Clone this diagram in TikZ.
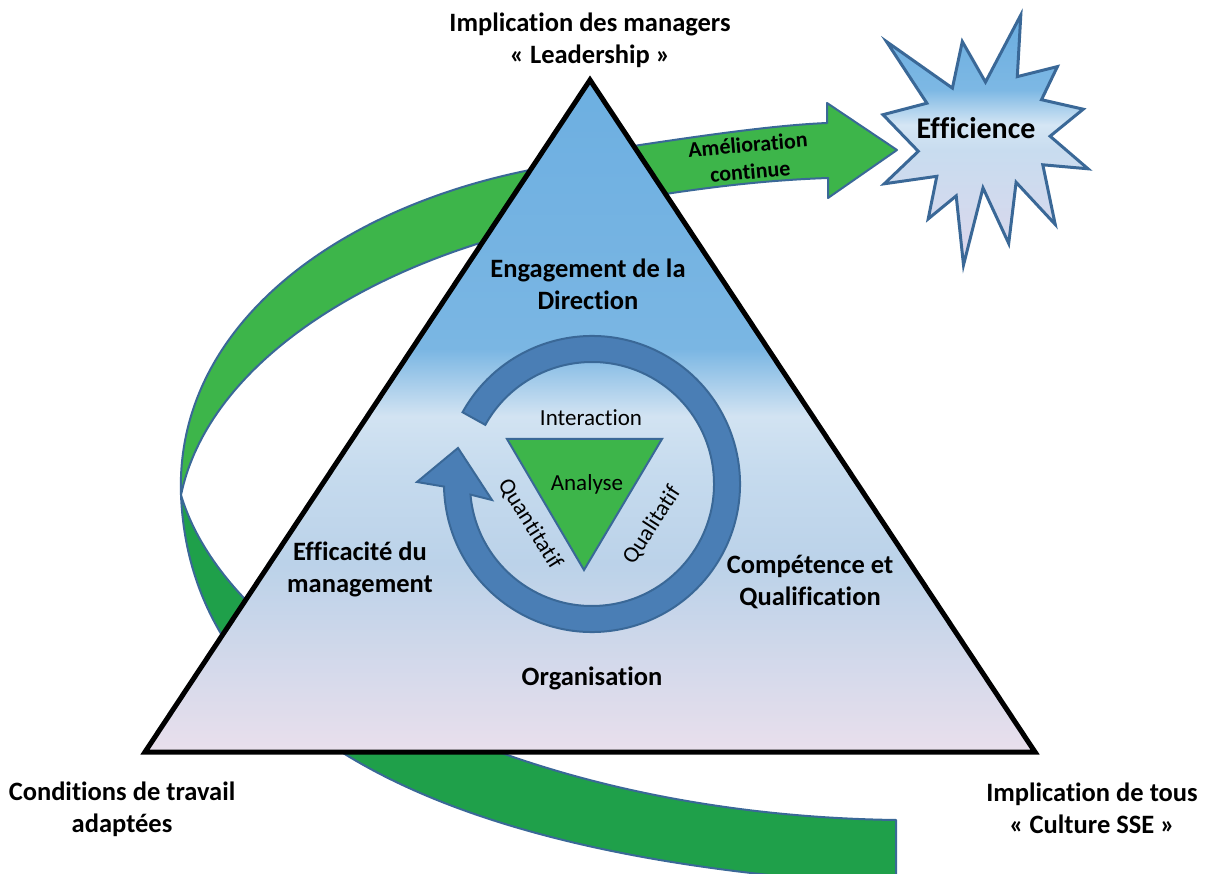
\documentclass[tikz,border=0pt]{standalone}
\usepackage{fontspec}
\setmainfont[Ligatures={NoCommon}]{Carlito}
\definecolor{bandlight}{HTML}{3DB54A}
\definecolor{banddark}{HTML}{1FA04A}
\definecolor{edgeblue}{HTML}{3A6897}
\definecolor{ringblue}{HTML}{4A7EB5}
\definecolor{tA}{HTML}{6DAFE1}
\definecolor{tB}{HTML}{7AB6E3}
\definecolor{tC}{HTML}{D2E3F2}
\definecolor{tCD}{HTML}{C6DBEE}
\definecolor{tD}{HTML}{BBD2E9}
\definecolor{tF}{HTML}{E9DFEC}
\definecolor{sA}{HTML}{6AADE0}
\definecolor{sB}{HTML}{7DB8E4}
\definecolor{sC}{HTML}{D5E6F4}
\definecolor{sD}{HTML}{C8DCEF}
\definecolor{sE}{HTML}{DCD7EC}
\pgfdeclareverticalshading{trishade}{100bp}{color(0bp)=(tF); color(25bp)=(tF); color(39bp)=(tD); color(46bp)=(tCD); color(50bp)=(tC); color(55bp)=(tB); color(75bp)=(tA); color(100bp)=(tA)}
\pgfdeclareverticalshading{starshade}{100bp}{color(0bp)=(sE); color(25bp)=(sE); color(48bp)=(sD); color(53bp)=(sC); color(60bp)=(sB); color(75bp)=(sA); color(100bp)=(sA)}
\tikzset{
  bandup/.style={fill=bandlight, draw=edgeblue, line width=2pt, line join=round},
  banddown/.style={fill=banddark, draw=edgeblue, line width=2pt, line join=round},
  bigtri/.style={shading=trishade, draw=black, line width=5pt, line join=miter},
  ringstyle/.style={fill=ringblue, draw=edgeblue, line width=2pt, line join=miter},
  greentri/.style={fill=bandlight, draw=edgeblue, line width=2pt, line join=miter},
  starstyle/.style={shading=starshade, draw=edgeblue, line width=3pt, line join=miter},
  lbl/.style={font=\bfseries\fontsize{26.5}{32}\selectfont, align=center, inner sep=0pt},
  innerlbl/.style={font=\fontsize{23}{27}\selectfont, inner sep=0pt},
}
\begin{document}
\begin{tikzpicture}[x=1pt,y=-1pt]
\path[use as bounding box] (0,0) rectangle (1208,874);
\clip (0,0) rectangle (1208,874);

% green twisted ribbon: lower (dark) part
\draw[banddown] (181,495) .. controls (190,720) and (420,860) .. (896,885)
  -- (896,820) .. controls (520,815) and (230,660) .. (181,495) -- cycle;
% upper (light) part with arrow head
\draw[bandup] (181,495) .. controls (175,330) and (330,210) .. (530,170)
  .. controls (580,158) and (610,150) .. (640,145)
  .. controls (720,133) and (780,125) .. (827,123)
  -- (827,103) -- (897,150) -- (828,198) -- (828,178)
  .. controls (770,180) and (720,186) .. (672,193)
  .. controls (600,205) and (540,220) .. (480,243)
  .. controls (330,290) and (205,380) .. (181,495) -- cycle;

% main triangle
\draw[bigtri] (590,80) -- (1035,752) -- (145,752) -- cycle;

% circular arrow
\coordinate (rc) at (592,484);
\draw[ringstyle] ([shift={(-151:148)}]rc) arc[start angle=-151, end angle=179, radius=148]
  -- (417,482) -- (458,448) -- (492,500)
  -- ([shift={(175:122)}]rc) arc[start angle=175, end angle=-151, radius=122] -- cycle;

% inner green triangle
\draw[greentri] (507,439) -- (662,439) -- (584,570) -- cycle;

% star
\draw[starstyle] (985.5,82.1) -- (1020.8,15) -- (1017.3,76.6) -- (1057.4,66.6)
  -- (1041.5,99.7) -- (1083.2,109.2) -- (1050.1,136.2) -- (1088,168.8)
  -- (1042.8,164.8) -- (1055.2,224.4) -- (1016.1,182.3) -- (1008.7,243.4)
  -- (983,187.9) -- (963.5,265) -- (956.2,195.9) -- (928.2,218.9)
  -- (936.8,176.3) -- (884.3,183.8) -- (918.3,151.3) -- (883,114.7)
  -- (926.9,103.2) -- (886.5,41.6) -- (952.4,88.1) -- (962.3,41.6) -- cycle;

% texts
\node[lbl] (top) at (590,40) {Implication des managers\\«~Leadership~»};
\node[lbl] (engage) at (588,284) {Engagement de la\\Direction};
\node[lbl] (effic) at (360,569) {Efficacité du\\management};
\node[lbl] (compet) at (810,582) {Compétence et\\Qualification};
\node[lbl] (orga) at (592,678) {Organisation};
\node[lbl] (cond) at (122,809) {Conditions de travail\\adaptées};
\node[lbl] (tous) at (1092,808) {Implication de tous\\«~Culture SSE~»};
\node[font=\bfseries\fontsize{30}{36}\selectfont, inner sep=0pt] (eff) at (976,128) {Efficience};
\node[font=\bfseries\fontsize{22}{27}\selectfont, align=center, inner sep=0pt, rotate=5] (amel) at (749,158) {Amélioration\\continue};
\node[innerlbl] (inter) at (591,418) {Interaction};
\node[innerlbl] (analyse) at (587,484) {Analyse};
\node[innerlbl, rotate=-58] (quanti) at (530,524) {Quantitatif};
\node[innerlbl, rotate=57] (quali) at (652,525) {Qualitatif};
\end{tikzpicture}
\end{document}
